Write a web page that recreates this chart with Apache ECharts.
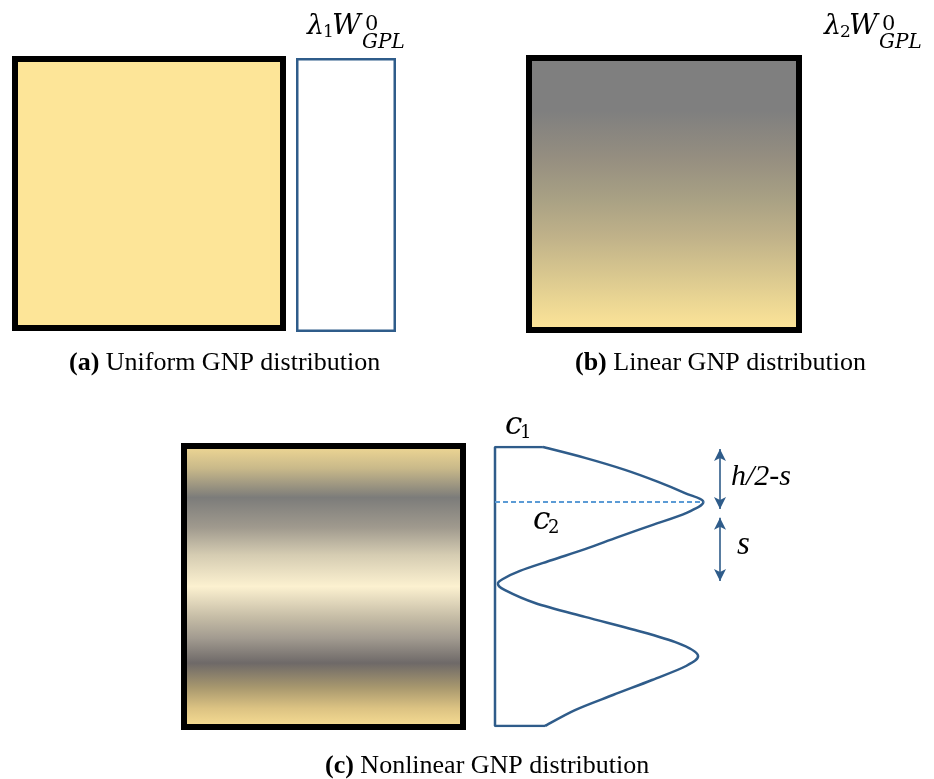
<!DOCTYPE html>
<html><head><meta charset="utf-8">
<script src="https://cdn.jsdelivr.net/npm/echarts@6/dist/echarts.min.js"></script>
<style>html,body{margin:0;padding:0;background:#fff}#c{width:934px;height:779px}</style>
</head><body><div id="c"></div>
<script>
// ---------------- data ----------------
// (a) uniform GNP distribution
const uniformColor = '#FDE598';
// (b) linear GNP distribution: gradient stops (top -> bottom of the plate)
const linearStops  = [0, 0.2, 0.37, 0.52, 0.65, 0.77, 0.9, 1];
const linearColors = ['#7F7F7F', '#7F7F7F', '#958E80', '#A9A184', '#BFB189', '#D5C48E', '#EDD894', '#FFE699'];
// (c) nonlinear GNP distribution: gradient stops (top -> bottom of the plate)
const nonlinearStops  = [0, 0.088, 0.19, 0.295, 0.39, 0.5, 0.61, 0.68, 0.767, 0.852, 0.925, 1];
const nonlinearColors = ['#F4DB95', '#C9B98A', '#7C7C7A', '#A09A8E', '#D5CCB2', '#FCF1D0', '#C4BBA5', '#A29B90', '#6E6968', '#A8986E', '#DCC383', '#FCE196'];
// (c) profile: depth (0 = top, 1 = bottom) and GNP weight fraction (relative, c2 = 1)
const profileDepth = [0, 0.039, 0.082, 0.125, 0.165, 0.197, 0.237, 0.280, 0.323, 0.366, 0.405, 0.444, 0.473, 0.491, 0.513, 0.559, 0.609, 0.656, 0.703, 0.746, 0.785, 0.835, 0.889, 0.943, 1.0];
const profileConc  = [0.23, 0.432, 0.624, 0.783, 0.912, 1.0, 0.917, 0.754, 0.590, 0.432, 0.274, 0.120, 0.038, 0.014, 0.048, 0.192, 0.432, 0.672, 0.878, 0.974, 0.917, 0.754, 0.566, 0.384, 0.24];
const c1Top = 0.23, c1Bottom = 0.24;
const c2Depth = 0.197, c2Value = 1.0;
const arrowConc = 1.08;
const arrowSpans = [[0.007, 0.222], [0.254, 0.48]];
const captions = ['Uniform GNP distribution', 'Linear GNP distribution', 'Nonlinear GNP distribution'];

// ---------------- chart ----------------
const blue = '#2F5C8A';
function grad(stops, colors) {
  return new echarts.graphic.LinearGradient(0, 0, 0, 1, stops.map((s, i) => ({offset: s, color: colors[i]})));
}
const grids = [
  {left: 15, top: 59, width: 268, height: 269, show: true, backgroundColor: uniformColor, borderColor: '#000', borderWidth: 6},
  {left: 297.25, top: 59.25, width: 97.5, height: 271.5, show: true, backgroundColor: '#fff', borderColor: blue, borderWidth: 2.5},
  {left: 529, top: 58, width: 270, height: 272, show: true, backgroundColor: grad(linearStops, linearColors), borderColor: '#000', borderWidth: 6},
  {left: 184, top: 446, width: 279, height: 281, show: true, backgroundColor: grad(nonlinearStops, nonlinearColors), borderColor: '#000', borderWidth: 6},
  {left: 495, top: 447, width: 250, height: 279, show: false}
];
const xAxes = grids.map((g, i) => ({type: 'value', gridIndex: i, min: 0, max: i === 4 ? 1.2 : 1, show: false}));
const yAxes = grids.map((g, i) => ({type: 'value', gridIndex: i, min: 0, max: 1, inverse: true, show: false}));

const serif = 'Liberation Serif';
const mathF = 'DejaVu Serif';
function t(x, y, text, size, family, italic, extra) {
  return Object.assign({type: 'text', x: x, y: y, silent: true, style: {text: text, fontSize: size, fontFamily: family,
    fontStyle: italic ? 'italic' : 'normal', fill: '#000', verticalAlign: 'middle', align: 'left'}}, extra || {});
}
function lambdaLabel(dx, digit) {
  return [
    t(307 + dx, 27, 'λ', 27, mathF, true),
    t(323 + dx, 33, digit, 17, mathF, false),
    t(332 + dx, 27, 'W', 28, mathF, true),
    t(365 + dx, 25, '0', 21, mathF, false),
    t(362 + dx, 42.5, 'GPL', 20, mathF, true)
  ];
}
function caption(x, y, letter, text) {
  return {type: 'text', x: x, y: y, silent: true, style: {
    text: '{b|(' + letter + ')} ' + text, fontSize: 26, fontFamily: serif, fill: '#000', verticalAlign: 'middle',
    rich: {b: {fontWeight: 'bold', fontSize: 26, fontFamily: serif}}}};
}
const graphics = [].concat(
  lambdaLabel(0, '1'),
  lambdaLabel(517, '2'),
  [
    t(505, 426, 'c', 31, mathF, true), t(520, 433, '1', 18, mathF, false),
    t(533, 521, 'c', 31, mathF, true), t(548, 528, '2', 18, mathF, false),
    t(731, 477, 'h/2-s', 30, serif, true),
    t(737, 545, 's', 33, serif, true),
    caption(69, 363, 'a', captions[0]),
    caption(575, 363, 'b', captions[1]),
    caption(325, 766, 'c', captions[2])
  ]
);

// smooth profile curve (Catmull-Rom through the read points, projected by the axes)
function renderProfile(params, api) {
  const pts = profileDepth.map((d, i) => api.coord([profileConc[i], d]));
  const n = pts.length;
  let p = 'M' + pts[0][0] + ' ' + pts[0][1];
  for (let i = 0; i < n - 1; i++) {
    const p0 = pts[Math.max(i - 1, 0)], p1 = pts[i], p2 = pts[i + 1], p3 = pts[Math.min(i + 2, n - 1)];
    const a = [p1[0] + (p2[0] - p0[0]) / 6, p1[1] + (p2[1] - p0[1]) / 6];
    const b = [p2[0] - (p3[0] - p1[0]) / 6, p2[1] - (p3[1] - p1[1]) / 6];
    p += ' C' + a[0] + ' ' + a[1] + ' ' + b[0] + ' ' + b[1] + ' ' + p2[0] + ' ' + p2[1];
  }
  return {type: 'path', shape: {pathData: p}, style: {fill: 'none', stroke: blue, lineWidth: 2.5, lineJoin: 'round'}};
}

const chart = echarts.init(document.getElementById('c'), null, {renderer: 'canvas'});
chart.setOption({
  animation: false,
  backgroundColor: '#fff',
  grid: grids,
  xAxis: xAxes,
  yAxis: yAxes,
  graphic: graphics,
  series: [
    {type: 'line', xAxisIndex: 4, yAxisIndex: 4, symbol: 'none', silent: true,
     data: [[c1Top, 0], [0, 0], [0, 1], [c1Bottom, 1]],
     lineStyle: {color: blue, width: 2.5}},
    {type: 'custom', xAxisIndex: 4, yAxisIndex: 4, silent: true, data: [[0, 0]], renderItem: renderProfile},
    {type: 'line', xAxisIndex: 4, yAxisIndex: 4, symbol: 'none', silent: true,
     data: [[0, c2Depth], [c2Value, c2Depth]],
     lineStyle: {color: '#5B9BD5', width: 2, type: [5, 3]},
     markLine: {silent: true, symbol: ['arrow', 'arrow'], symbolSize: [9, 12],
       lineStyle: {color: blue, width: 1.6, type: 'solid'}, label: {show: false},
       data: arrowSpans.map(s => [{coord: [arrowConc, s[0]]}, {coord: [arrowConc, s[1]]}])}}
  ]
});
</script></body></html>
